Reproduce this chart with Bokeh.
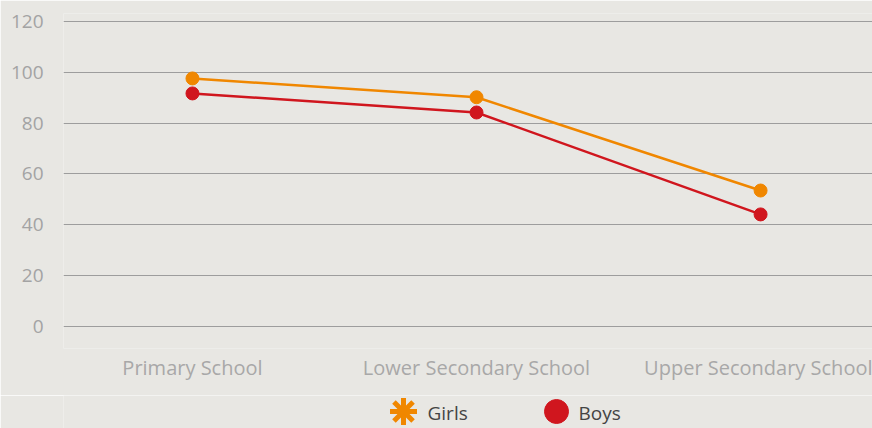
from bokeh.plotting import figure
from bokeh.layouts import column
from bokeh.models import Range1d, FixedTicker, ColumnDataSource
from bokeh.core.properties import value
from bokeh.embed import file_html
from bokeh.resources import INLINE

categories = ["Primary School", "Lower Secondary School", "Upper Secondary School"]
girls = [97.6, 90.2, 53.5]
boys = [91.7, 84.2, 44.1]
y_ticks = [0, 20, 40, 60, 80, 100, 120]
legend_labels = ["Girls", "Boys"]

BG = "#e8e7e3"
FONT = "Open Sans"
GIRLS_C = "#f08700"
BOYS_C = "#d0161e"

xs = list(range(len(categories)))

p = figure(width=872, height=395, output_backend="svg", toolbar_location=None,
           x_range=Range1d(-0.454, 2.394), y_range=Range1d(-8.66, 123.15),
           border_fill_color=BG, background_fill_color=BG,
           min_border_left=63, min_border_right=0, min_border_top=13, min_border_bottom=47)
p.outline_line_color = None

# axes
p.yaxis.ticker = FixedTicker(ticks=y_ticks)
p.yaxis.axis_line_color = None
p.yaxis.major_tick_line_color = None
p.yaxis.major_tick_out = 0
p.yaxis.major_tick_in = 0
p.yaxis.minor_tick_line_color = None
p.yaxis.major_label_text_font = FONT
p.yaxis.major_label_text_font_size = "19px"
p.yaxis.major_label_text_color = "#a3a3a3"
p.yaxis.major_label_standoff = 20

p.xaxis.ticker = FixedTicker(ticks=xs)
p.xaxis.major_label_overrides = {i: c for i, c in zip(xs, categories)}
p.xaxis.axis_line_color = None
p.xaxis.major_tick_line_color = None
p.xaxis.major_tick_out = 0
p.xaxis.major_tick_in = 0
p.xaxis.minor_tick_line_color = None
p.xaxis.major_label_text_font = FONT
p.xaxis.major_label_text_font_size = "20px"
p.xaxis.major_label_text_color = "#a8a8a8"
p.xaxis.major_label_standoff = 5

p.xgrid.grid_line_color = None
p.ygrid.ticker = FixedTicker(ticks=y_ticks)
p.ygrid.grid_line_color = "#9d9d9d"
p.ygrid.grid_line_width = 1

src = ColumnDataSource(dict(x=xs, girls=girls, boys=boys))

p.line("x", "girls", source=src, line_color=GIRLS_C, line_width=2.5)
p.scatter("x", "girls", source=src, size=13, fill_color=GIRLS_C, line_color=GIRLS_C)
p.line("x", "boys", source=src, line_color=BOYS_C, line_width=2.5)
p.scatter("x", "boys", source=src, size=13, fill_color=BOYS_C, line_color=BOYS_C)

# legend strip (separate figure in pixel units)
lf = figure(width=872, height=33, output_backend="svg", toolbar_location=None,
            x_range=Range1d(63, 872), y_range=Range1d(33, 0),
            x_axis_location=None, y_axis_location=None,
            border_fill_color=BG, background_fill_color=BG,
            min_border=0, min_border_left=63)
lf.outline_line_color = None
lf.grid.visible = False

icon_x = [403, 556]
lf.scatter(x=[icon_x[0]], y=[16], marker="asterisk", size=27, line_color=GIRLS_C, line_width=5)
lf.scatter(x=[icon_x[0]], y=[16], marker="x", size=20, line_color=GIRLS_C, line_width=3)
lf.scatter(x=[icon_x[1]], y=[16], marker="circle", size=24, fill_color=BOYS_C, line_color=BOYS_C)
lf.text(x=[427, 578], y=[17, 17], text=legend_labels, text_font=value(FONT),
        text_font_size="19px", text_color="#444444", text_baseline="middle", text_align="left")

open("out.html", "w").write(file_html(column(p, lf, spacing=0), INLINE))
